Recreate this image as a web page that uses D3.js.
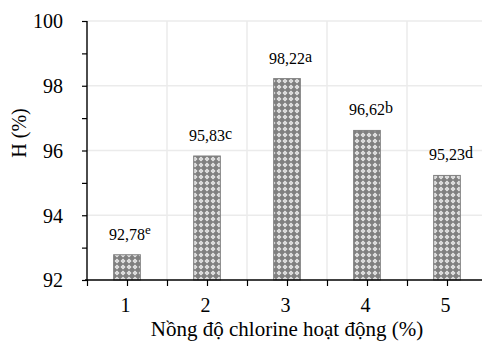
<!DOCTYPE html>
<html>
<head>
<meta charset="utf-8">
<script src="https://cdn.jsdelivr.net/npm/d3@7.9.0/dist/d3.min.js"></script>
<style>
  body { margin: 0; background: #fff; }
  svg { display: block; }
  svg text { font-family: "Liberation Serif", "Times New Roman", serif; fill: #000; }
</style>
</head>
<body>
<svg id="chart" width="482" height="349"></svg>
<script>
const categories = ["1", "2", "3", "4", "5"];
const values = [92.78, 95.83, 98.22, 96.62, 95.23];
const letters = ["e", "c", "a", "b", "d"];
const yTicks = [92, 94, 96, 98, 100];
const xTitle = "Nồng độ chlorine hoạt động (%)";
const yTitle = "H (%)";

const svg = d3.select("#chart");
const plotLeft = 87, plotRight = 487, plotTop = 21, plotBottom = 280;

// pattern for the bars
const defs = svg.append("defs");
const pat = defs.append("pattern")
    .attr("id", "dots")
    .attr("patternUnits", "userSpaceOnUse")
    .attr("width", 6).attr("height", 6);
pat.append("rect").attr("width", 6).attr("height", 6).attr("fill", "#808080");
pat.append("path").attr("d", "M3,0.5L5.5,3L3,5.5L0.5,3Z").attr("fill", "#ececec");
pat.append("rect").attr("x", 2.5).attr("y", 2.5).attr("width", 1).attr("height", 1).attr("fill", "#a0a0a0");

let x = d3.scaleBand()
    .domain(categories)
    .range([plotLeft, plotRight])
    .paddingInner(2 / 3)
    .paddingOuter(1 / 3);

let y = d3.scaleLinear().domain([92, 100]).range([plotBottom, plotTop]);

// gridlines
svg.append("g")
    .selectAll("line")
    .data(yTicks.slice(1))
    .join("line")
    .attr("x1", plotLeft).attr("x2", plotRight)
    .attr("y1", d => y(d)).attr("y2", d => y(d))
    .attr("stroke", "#ebebeb").attr("stroke-width", 1.5);

let xb = d3.scaleLinear().domain([0.5, 5.5]).range([plotLeft, plotRight]);
svg.append("g")
    .selectAll("line")
    .data(d3.range(1.5, 6, 1))
    .join("line")
    .attr("x1", d => xb(d)).attr("x2", d => xb(d))
    .attr("y1", plotTop).attr("y2", plotBottom)
    .attr("stroke", "#ebebeb").attr("stroke-width", 1.5);

// bars
svg.append("g")
    .selectAll("rect")
    .data(values)
    .join("rect")
    .attr("x", (d, i) => x(categories[i]))
    .attr("y", d => y(d))
    .attr("width", x.bandwidth())
    .attr("height", d => plotBottom - y(d))
    .attr("fill", "url(#dots)")
    .attr("stroke", "#808080")
    .attr("stroke-width", 1);

// value labels
values.forEach((v, i) => {
    let cx = x(categories[i]) + x.bandwidth() / 2;
    let t = svg.append("text")
        .attr("x", cx)
        .attr("y", y(v) - 15)
        .attr("text-anchor", "middle")
        .attr("font-size", 16)
        .text(v.toFixed(2).replace(".", ","));
    let w = t.node().getComputedTextLength();
    let sup = letters[i] === "e";
    svg.append("text")
        .attr("x", cx + w / 2)
        .attr("y", y(v) - 15 - (sup ? 6 : 2))
        .attr("font-size", sup ? 13 : 16)
        .text(letters[i]);
});

// y axis
let yAxis = d3.axisLeft(y)
    .tickValues(d3.range(92, 101, 1))
    .tickSize(5)
    .tickPadding(19)
    .tickFormat(d => yTicks.includes(d) ? d : "");
let gy = svg.append("g").attr("transform", `translate(${plotLeft},0)`).call(yAxis);
gy.attr("font-family", null).attr("font-size", null);
gy.select(".domain").attr("stroke", "#000").attr("stroke-width", 1.4).attr("d", `M0,${plotTop}V${plotBottom}`);
gy.selectAll(".tick line").attr("stroke", "#000").attr("stroke-width", 1.2);
gy.selectAll(".tick text").attr("font-size", 20).attr("dy", "0.34em");

// x axis
let xAxis = d3.axisBottom(xb)
    .tickValues(d3.range(0.5, 5.6, 0.5))
    .tickSize(6)
    .tickFormat(d => Number.isInteger(d) ? d : "");
let gx = svg.append("g").attr("transform", `translate(0,${plotBottom})`).call(xAxis);
gx.attr("font-family", null).attr("font-size", null);
gx.select(".domain").attr("stroke", "#000").attr("stroke-width", 1.4).attr("d", `M${plotLeft - 2},0H${plotRight}`);
gx.selectAll(".tick line").attr("stroke", "#000").attr("stroke-width", 1.2);
gx.selectAll(".tick text").attr("font-size", 20).attr("y", 32).attr("dy", 0).attr("dx", -2);

// titles
svg.append("text")
    .attr("x", 287).attr("y", 336)
    .attr("text-anchor", "middle")
    .attr("font-size", 21)
    .text(xTitle);

svg.append("text")
    .attr("transform", "translate(26,133) rotate(-90)")
    .attr("text-anchor", "middle")
    .attr("font-size", 20)
    .text(yTitle);
</script>
</body>
</html>
